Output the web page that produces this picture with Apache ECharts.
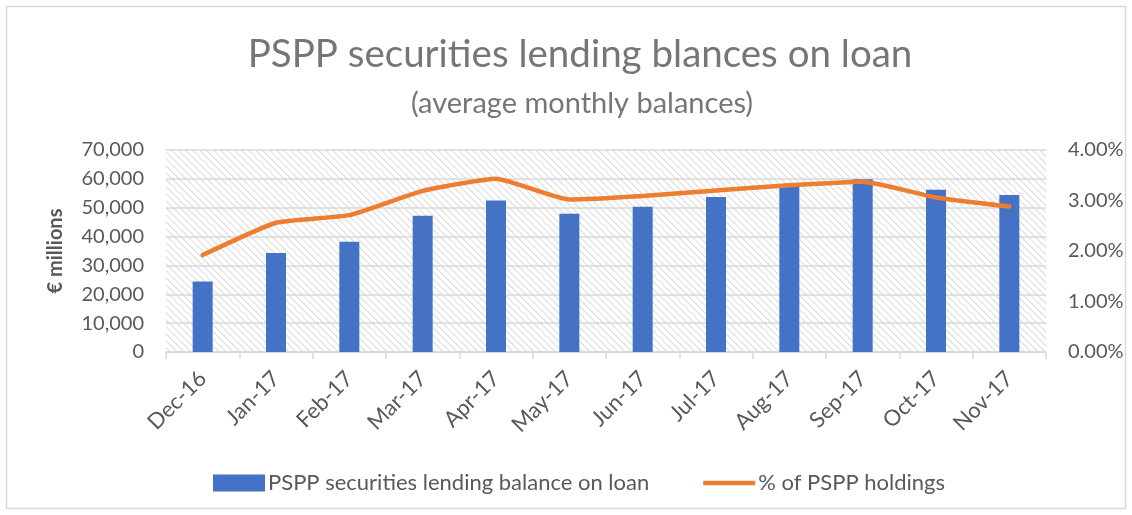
<!DOCTYPE html>
<html>
<head>
<meta charset="utf-8">
<script src="https://cdn.jsdelivr.net/npm/echarts@6/dist/echarts.min.js"></script>
<style>
html,body{margin:0;padding:0;background:#fff;}
#chart{width:1132px;height:515px;}
</style>
</head>
<body>
<div id="chart"></div>
<script>
const categories = ['Dec-16','Jan-17','Feb-17','Mar-17','Apr-17','May-17','Jun-17','Jul-17','Aug-17','Sep-17','Oct-17','Nov-17'];
const balanceOnLoan = [24400, 34300, 38200, 47200, 52500, 47900, 50300, 53700, 57700, 59900, 56200, 54400];
const pctHoldings = [0.0192, 0.0256, 0.0271, 0.0319, 0.0343, 0.0302, 0.0309, 0.0320, 0.0330, 0.0337, 0.0306, 0.0288];
const titleText = 'PSPP securities lending blances on loan';
const subtitleText = '(average monthly balances)';
const seriesNames = ['PSPP securities lending balance on loan', '% of PSPP holdings'];

const FONT = 'Lato';
const TXT = '#595959';

// hatch pattern for plot background
const pc = document.createElement('canvas');
pc.width = 7; pc.height = 7;
const px = pc.getContext('2d');
px.fillStyle = '#ffffff';
px.fillRect(0,0,7,7);
px.fillStyle = '#dcdcdc';
for (let i = 0; i < 7; i++) { px.fillRect(i, i, 1, 1); }
px.fillStyle = '#efefef';
for (let i = 0; i < 7; i++) { px.fillRect((i+1)%7, i, 1, 1); }

const chart = echarts.init(document.getElementById('chart'), null, {renderer:'canvas'});
chart.setOption({
  backgroundColor: '#ffffff',
  animation: false,
  title: [
    {text: titleText, left: 575, textAlign: 'center', top: 30, textStyle:{fontFamily:FONT, fontSize:38.5, fontWeight:'normal', color:'#767676'}},
    {text: subtitleText, left: 577, textAlign: 'center', top: 84, textStyle:{fontFamily:FONT, fontSize:29, fontWeight:'normal', color:'#767676'}}
  ],
  graphic: [{type:'rect', shape:{x:6.5, y:6.5, width:1119, height:502}, style:{fill:'none', stroke:'#d9d9d9', lineWidth:1.5}, silent:true, z:-1}],
  legend: {
    bottom: 16, left: 208, itemGap: 54,
    itemWidth: 52, itemHeight: 17,
    textStyle:{fontFamily:FONT, fontSize:22, color:TXT, padding:[0,0,0,-2]},
    data: [
      {name: seriesNames[0], icon:'rect'},
      {name: seriesNames[1], icon:'path://M0,0 L56,0 L56,5 L0,5 Z', itemStyle:{color:'#ed7d31'}}
    ]
  },
  grid: {left:166, right:86, top:150, bottom:163, show:true, borderWidth:0,
    backgroundColor:{image: pc, repeat:'repeat'}},
  xAxis: {
    type:'category', data: categories, boundaryGap:true,
    axisLine:{show:true, lineStyle:{color:'#d9d9d9', width:1.5}},
    axisTick:{show:true, length:7, lineStyle:{color:'#d9d9d9', width:1.5}},
    axisLabel:{rotate:45, fontFamily:FONT, fontSize:22, color:TXT, margin:23, interval:0}
  },
  yAxis: [
    {type:'value', min:0, max:70000, interval:10000,
      name:'€ millions', nameLocation:'middle', nameRotate:90, nameGap:100,
      nameTextStyle:{fontFamily:FONT, fontSize:20, fontWeight:'bold', color:TXT},
      axisLine:{show:false}, axisTick:{show:false},
      splitLine:{lineStyle:{color:'#d9d9d9', width:1.5}},
      axisLabel:{fontFamily:FONT, fontSize:20, color:TXT, margin:22,
        formatter: v => v.toLocaleString('en-US')}},
    {type:'value', min:0, max:0.04, interval:0.01,
      axisLine:{show:false}, axisTick:{show:false}, splitLine:{show:false},
      axisLabel:{fontFamily:FONT, fontSize:20, color:TXT, margin:22,
        formatter: v => (v*100).toFixed(2) + '%'}}
  ],
  series: [
    {name: seriesNames[0], type:'bar', data: balanceOnLoan, barWidth:20, itemStyle:{color:'#4472c4'}, yAxisIndex:0},
    {name: seriesNames[1], type:'line', data: pctHoldings, yAxisIndex:1, smooth:0.15, symbol:'none',
      lineStyle:{color:'#ed7d31', width:4.5, cap:'round', join:'round'}, itemStyle:{color:'#ed7d31'}}
  ]
});
</script>
</body>
</html>
